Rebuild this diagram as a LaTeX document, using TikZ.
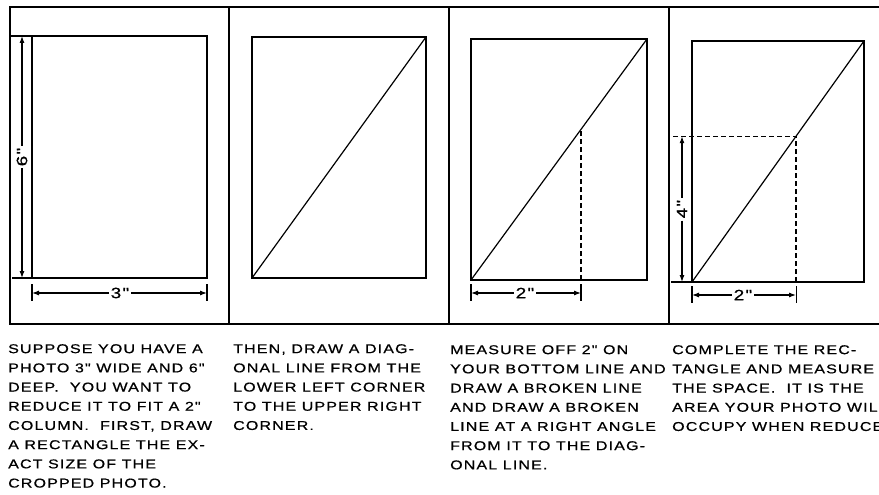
\documentclass[tikz,border=0pt]{standalone}
\usepackage{fontspec}
\setmainfont{Liberation Sans}
\newfontfamily\captfont[FakeStretch=1.25,LetterSpace=9,FakeBold=0.7]{Liberation Sans}
\usetikzlibrary{arrows.meta,calc}
\begin{document}
\begin{tikzpicture}[x=1pt,y=-1pt,
  frame/.style={line width=1.9pt},
  photo/.style={line width=1.5pt},
  thickbase/.style={line width=2.8pt},
  diag/.style={line width=1.2pt},
  broken/.style={line width=1.2pt, dash pattern=on 5pt off 3pt},
  dimline/.style={line width=1.1pt, -{Latex[length=7pt,width=5pt]}},
  tickline/.style={line width=1.1pt},
  dimlabel/.style={font=\captfont\fontsize{15}{15}\selectfont, inner sep=2pt, fill=white},
  caption/.style={font=\captfont\fontsize{12.8}{19.2}\selectfont, align=left, anchor=north west, inner sep=0pt}]
\useasboundingbox (0,0) rectangle (879,495);
% outer frame and dividers
\coordinate (ftr) at (885,7);
\coordinate (ftl) at (10,7);
\coordinate (fbl) at (10,324);
\coordinate (fbr) at (885,324);
\draw[frame] (ftr) -- (ftl) -- (fbl) -- (fbr);
\foreach \x/\n in {229/a,449/b,669/c}{
  \coordinate (d\n t) at (\x,7);
  \coordinate (d\n b) at (\x,324);
  \draw[frame] (d\n t) -- (d\n b);
}
% ---------- panel 1
\coordinate (p1tl) at (32,36);
\coordinate (p1br) at (207,278);
\draw[photo] (p1tl) rectangle (p1br);
% vertical dimension 6"
\coordinate (v1t) at (22,36);
\coordinate (v1b) at (22,278);
\draw[tickline] (10,36) -- (p1tl);
\draw[tickline] (12,278) -- (32,278);
\node[dimlabel, rotate=90] (l6) at (22,157) {6"};
\draw[dimline] (l6.east) -- (v1t);
\draw[dimline] (l6.west) -- (v1b);
% horizontal dimension 3"
\coordinate (h1l) at (32,293);
\coordinate (h1r) at (207,293);
\draw[tickline] (32,284) -- (32,301);
\draw[tickline] (207,284) -- (207,301);
\node[dimlabel] (l3) at (120,293) {3"};
\draw[dimline] (l3.west) -- (h1l);
\draw[dimline] (l3.east) -- (h1r);
% ---------- panel 2
\coordinate (p2bl) at (252,278);
\coordinate (p2tr) at (426,37);
\draw[photo] (p2bl) rectangle (p2tr);
\draw[diag] (p2bl) -- (p2tr);
% ---------- panel 3
\coordinate (p3bl) at (471,280);
\coordinate (p3tr) at (647,39);
\draw[photo] (p3bl) rectangle (p3tr);
\draw[thickbase] (p3bl) -- (647,280);
\draw[diag] (p3bl) -- (p3tr);
\coordinate (p3m) at ($(p3bl)!0.625!(p3tr)$);
\coordinate (p3f) at (p3m |- p3bl);
\draw[broken] (p3f) -- (p3m);
\coordinate (h3l) at (471,293);
\coordinate (h3r) at (p3m |- h3l);
\draw[tickline] (471,284) -- (471,301);
\draw[tickline] ($(h3r)+(0,-9)$) -- ($(h3r)+(0,8)$);
\node[dimlabel] (l2a) at (525,293) {2"};
\draw[dimline] (l2a.west) -- (h3l);
\draw[dimline] (l2a.east) -- (h3r);
% ---------- panel 4
\coordinate (p4bl) at (692,282);
\coordinate (p4tr) at (864,41);
\draw[photo] (p4bl) rectangle (p4tr);
\draw[thickbase] (671,282) -- (864,282);
\draw[diag] (p4bl) -- (p4tr);
\coordinate (p4m) at ($(p4bl)!0.605!(p4tr)$);
\coordinate (p4f) at (p4m |- p4bl);
\coordinate (p4e) at (673,0 |- p4m);
\draw[broken] (p4e) -- (p4m) -- (p4f);
% vertical dimension 4"
\coordinate (v4t) at (682,0 |- p4m);
\coordinate (v4b) at (682,282);
\node[dimlabel, rotate=90] (l4) at ($(v4t)!0.5!(v4b)$) {4"};
\draw[dimline] (l4.east) -- (v4t);
\draw[dimline] (l4.west) -- (v4b);
% horizontal dimension 2"
\coordinate (h4l) at (692,295);
\coordinate (h4r) at (p4m |- h4l);
\draw[tickline] (692,286) -- (692,303);
\draw[tickline] ($(h4r)+(0,-9)$) -- ($(h4r)+(0,8)$);
\node[dimlabel] (l2b) at (743,295) {2"};
\draw[dimline] (l2b.west) -- (h4l);
\draw[dimline] (l2b.east) -- (h4r);
% ---------- captions
\node[caption] (c1) at (8,344) {SUPPOSE YOU HAVE A\\PHOTO 3" WIDE AND 6"\\DEEP.\ \ YOU WANT TO\\REDUCE IT TO FIT A 2"\\COLUMN.\ \ FIRST, DRAW\\A RECTANGLE THE EX-\\ACT SIZE OF THE\\CROPPED PHOTO.};
\node[caption] (c2) at (233,344) {THEN, DRAW A DIAG-\\ONAL LINE FROM THE\\LOWER LEFT CORNER\\TO THE UPPER RIGHT\\CORNER.};
\node[caption] (c3) at (450,345) {MEASURE OFF 2" ON\\YOUR BOTTOM LINE AND\\DRAW A BROKEN LINE\\AND DRAW A BROKEN\\LINE AT A RIGHT ANGLE\\FROM IT TO THE DIAG-\\ONAL LINE.};
\node[caption] (c4) at (672,345) {COMPLETE THE REC-\\TANGLE AND MEASURE\\THE SPACE.\ \ IT IS THE\\AREA YOUR PHOTO WILL\\OCCUPY WHEN REDUCED.};
\end{tikzpicture}
\end{document}
